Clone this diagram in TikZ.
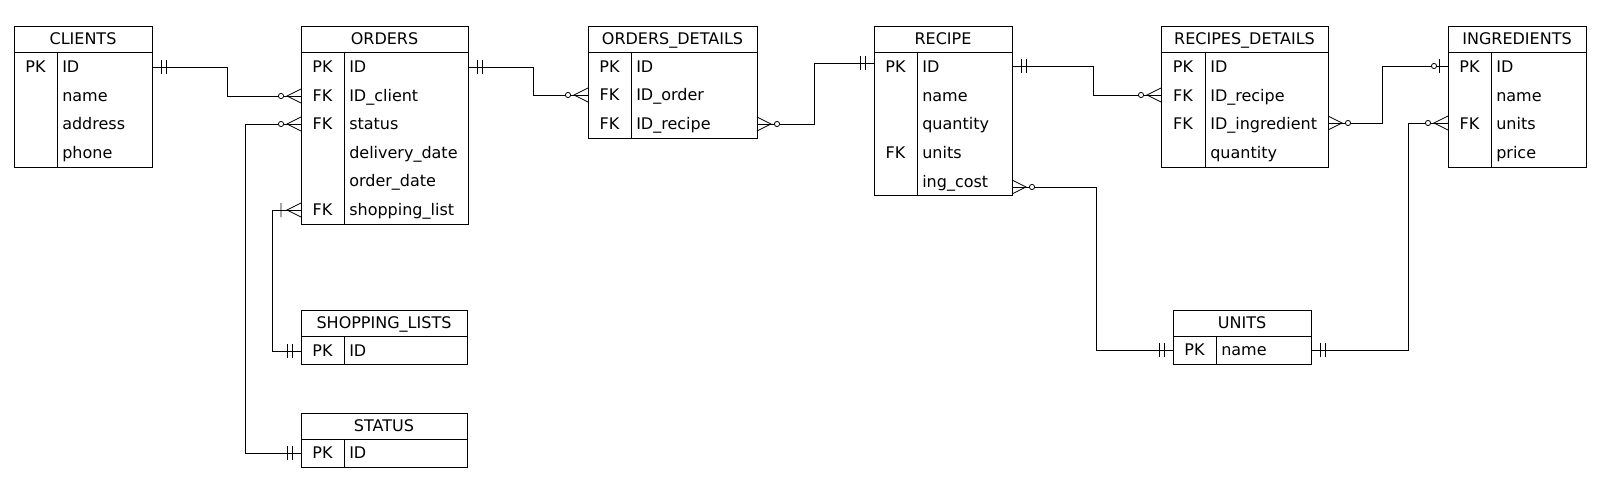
\documentclass[tikz,border=0pt]{standalone}
\usepackage{fontspec}
\setmainfont{DejaVu Sans}
\tikzset{
  tblbox/.style={draw=black, line width=0.65pt, inner sep=0pt, outer sep=0pt},
  tbltitle/.style={anchor=base, inner sep=0pt, font=\fontsize{12}{14}\selectfont},
  keytxt/.style={anchor=base, inner sep=0pt, font=\fontsize{12}{14}\selectfont},
  fldtxt/.style={anchor=base west, inner sep=0pt, font=\fontsize{12}{14}\selectfont},
  divline/.style={draw=black, line width=0.65pt},
  conn/.style={draw=black, line width=0.6pt},
  one/.pic={\draw[conn] (9,-7)--(9,7) (14,-7)--(14,7);},
  zmany/.pic={\draw[conn] (0,-7)--(14,0)--(0,7); \draw[conn,fill=white] (20,0) circle[radius=2.6];},
  onemany/.pic={\draw[conn] (0,-7)--(14,0)--(0,7) (20,-7)--(20,7);},
  zone/.pic={\draw[conn] (9,-7)--(9,7); \draw[conn,fill=white] (14,0) circle[radius=2.6];},
}
% #1 name, #2 x1, #3 x2, #4 top, #5 header bottom, #6 bottom, #7 divider x, #8 title
\newcommand\ertable[8]{%
  \node[tblbox, minimum width={(#3-#2)*0.75pt}, minimum height={(#5-#4)*0.75pt}] (#1-h) at ({(#2+#3)/2},{(#4+#5)/2}) {};
  \node[tblbox, minimum width={(#3-#2)*0.75pt}, minimum height={(#6-#5)*0.75pt}] (#1-b) at ({(#2+#3)/2},{(#5+#6)/2}) {};
  \node[tbltitle] (#1-t) at ({(#2+#3)/2},{#5-7.5}) {#8};
  \draw[divline] (#7,#5) -- (#7,#6);
}
% #1 name, #2 x, #3 y, #4 text
\newcommand\erkey[4]{\node[keytxt] (#1) at (#2,{#3+5.8}) {#4};}
\newcommand\erfld[4]{\node[fldtxt] (#1) at ({#2+5},{#3+5.8}) {#4};}
\begin{document}
\begin{tikzpicture}[x=0.75pt,y=-0.75pt]
\useasboundingbox (0,0) rectangle (1612,492);

% CLIENTS
\ertable{cl}{14}{152}{26}{52}{167}{57}{CLIENTS}
\erkey{cl-k1}{35.5}{67}{PK}
\erfld{cl-f1}{57}{67}{ID}
\erfld{cl-f2}{57}{96}{name}
\erfld{cl-f3}{57}{124}{address}
\erfld{cl-f4}{57}{153}{phone}

% ORDERS
\ertable{or}{301}{468}{26}{52}{224}{344}{ORDERS}
\erkey{or-k1}{322.5}{67}{PK}
\erkey{or-k2}{322.5}{96}{FK}
\erkey{or-k3}{322.5}{124}{FK}
\erkey{or-k6}{322.5}{210}{FK}
\erfld{or-f1}{344}{67}{ID}
\erfld{or-f2}{344}{96}{ID\_client}
\erfld{or-f3}{344}{124}{status}
\erfld{or-f4}{344}{153}{delivery\_date}
\erfld{or-f5}{344}{181}{order\_date}
\erfld{or-f6}{344}{210}{shopping\_list}

% ORDERS_DETAILS
\ertable{od}{588}{757}{26}{52}{138}{631}{ORDERS\_DETAILS}
\erkey{od-k1}{609.5}{67}{PK}
\erkey{od-k2}{609.5}{95}{FK}
\erkey{od-k3}{609.5}{124}{FK}
\erfld{od-f1}{631}{67}{ID}
\erfld{od-f2}{631}{95}{ID\_order}
\erfld{od-f3}{631}{124}{ID\_recipe}

% RECIPE
\ertable{re}{874}{1012}{26}{52}{195}{917}{RECIPE}
\erkey{re-k1}{895.5}{67}{PK}
\erkey{re-k4}{895.5}{153}{FK}
\erfld{re-f1}{917}{67}{ID}
\erfld{re-f2}{917}{96}{name}
\erfld{re-f3}{917}{124}{quantity}
\erfld{re-f4}{917}{153}{units}
\erfld{re-f5}{917}{182}{ing\_cost}

% RECIPES_DETAILS
\ertable{rd}{1161}{1328}{26}{52}{167}{1205}{RECIPES\_DETAILS}
\erkey{rd-k1}{1183}{67}{PK}
\erkey{rd-k2}{1183}{96}{FK}
\erkey{rd-k3}{1183}{124}{FK}
\erfld{rd-f1}{1205}{67}{ID}
\erfld{rd-f2}{1205}{96}{ID\_recipe}
\erfld{rd-f3}{1205}{124}{ID\_ingredient}
\erfld{rd-f4}{1205}{153}{quantity}

% INGREDIENTS
\ertable{in}{1448}{1586}{26}{52}{167}{1491}{INGREDIENTS}
\erkey{in-k1}{1469.5}{67}{PK}
\erkey{in-k3}{1469.5}{124}{FK}
\erfld{in-f1}{1491}{67}{ID}
\erfld{in-f2}{1491}{96}{name}
\erfld{in-f3}{1491}{124}{units}
\erfld{in-f4}{1491}{153}{price}

% SHOPPING_LISTS
\ertable{sl}{301}{467}{310}{336}{364}{344}{SHOPPING\_LISTS}
\erkey{sl-k1}{322.5}{351}{PK}
\erfld{sl-f1}{344}{351}{ID}

% STATUS
\ertable{st}{301}{467}{413}{439}{467}{344}{STATUS}
\erkey{st-k1}{322.5}{453}{PK}
\erfld{st-f1}{344}{453}{ID}

% UNITS
\ertable{un}{1173}{1311}{310}{336}{364}{1216}{UNITS}
\erkey{un-k1}{1194.5}{350}{PK}
\erfld{un-f1}{1216}{350}{name}

% connector end points
\coordinate (cl-id-e) at (152,67);
\coordinate (or-cl-w) at (301,96);
\coordinate (or-st-w) at (301,124);
\coordinate (st-id-w) at (301,453);
\coordinate (or-sl-w) at (301,210);
\coordinate (sl-id-w) at (301,351);
\coordinate (or-id-e) at (468,67);
\coordinate (od-or-w) at (588,95);
\coordinate (od-re-e) at (757,124);
\coordinate (re-id-w) at (874,63);
\coordinate (re-id-e) at (1012,66);
\coordinate (rd-re-w) at (1161,95);
\coordinate (rd-in-e) at (1328,123);
\coordinate (in-id-w) at (1448,66);
\coordinate (re-uc-e) at (1012,187);
\coordinate (un-nm-w) at (1173,350);
\coordinate (un-nm-e) at (1311,350);
\coordinate (in-un-w) at (1448,123);

% connectors
\draw[conn] (cl-id-e) -- ++(75,0) |- (or-cl-w);
\draw[conn] (or-st-w) -- ++(-56,0) |- (st-id-w);
\draw[conn] (or-sl-w) -- ++(-29,0) |- (sl-id-w);
\draw[conn] (or-id-e) -- ++(65,0) |- (od-or-w);
\draw[conn] (od-re-e) -- ++(57,0) |- (re-id-w);
\draw[conn] (re-id-e) -- ++(81,0) |- (rd-re-w);
\draw[conn] (rd-in-e) -- ++(54,0) |- (in-id-w);
\draw[conn] (re-uc-e) -- ++(84,0) |- (un-nm-w);
\draw[conn] (un-nm-e) -- ++(97,0) |- (in-un-w);

% cardinality marks
\pic at (cl-id-e) {one};
\pic[xscale=-1] at (or-cl-w) {zmany};
\pic[xscale=-1] at (or-st-w) {zmany};
\pic[xscale=-1] at (st-id-w) {one};
\pic[xscale=-1] at (or-sl-w) {onemany};
\pic[xscale=-1] at (sl-id-w) {one};
\pic at (or-id-e) {one};
\pic[xscale=-1] at (od-or-w) {zmany};
\pic at (od-re-e) {zmany};
\pic[xscale=-1] at (re-id-w) {one};
\pic at (re-id-e) {one};
\pic[xscale=-1] at (rd-re-w) {zmany};
\pic at (rd-in-e) {zmany};
\pic[xscale=-1] at (in-id-w) {zone};
\pic at (re-uc-e) {zmany};
\pic[xscale=-1] at (un-nm-w) {one};
\pic at (un-nm-e) {one};
\pic[xscale=-1] at (in-un-w) {zmany};
\end{tikzpicture}
\end{document}
